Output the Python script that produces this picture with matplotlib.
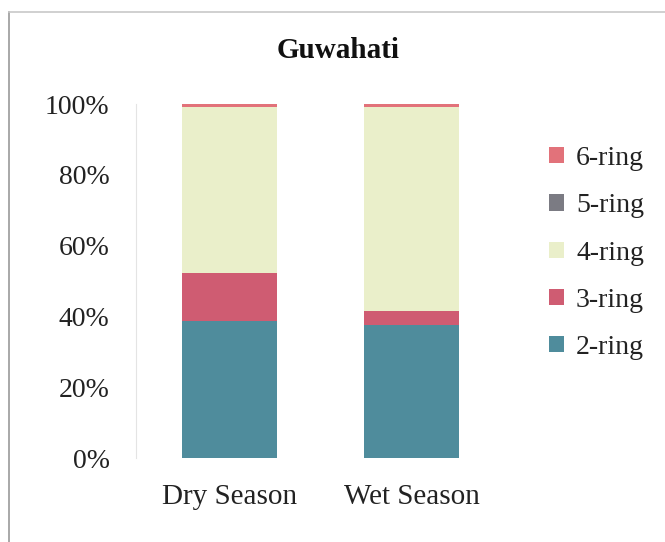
import matplotlib
matplotlib.use("Agg")
import matplotlib.pyplot as plt
from matplotlib.lines import Line2D
from matplotlib.patches import Patch

categories = ["Dry Season", "Wet Season"]
series_names = ["2-ring", "3-ring", "4-ring", "5-ring", "6-ring"]
ring2 = [38.7, 37.6]
ring3 = [13.6, 3.9]
ring4 = [46.9, 57.7]
ring5 = [0.0, 0.0]
ring6 = [0.8, 0.8]
yticks = [0, 20, 40, 60, 80, 100]
ytick_labels = ["0%", "20%", "40%", "60%", "80%", "100%"]
title = "Guwahati"

colors = ["#4f8c9c", "#cf5c72", "#eaefca", "#7b7b83", "#e2727a"]

plt.rcParams['font.family'] = ['Liberation Serif', 'DejaVu Serif']

W, H = 665, 542
fig = plt.figure(figsize=(W / 100, H / 100), dpi=100)
fig.patch.set_facecolor("white")

ax = fig.add_axes([136 / W, 1 - 458 / H, (505 - 136) / W, (458 - 104) / H])

series = [ring2, ring3, ring4, ring5, ring6]
x = list(range(len(categories)))
bottom = [0.0] * len(categories)
for name, vals, c in zip(series_names, series, colors):
    ax.bar(x, vals, bottom=bottom, width=0.52, color=c, edgecolor="none", label=name)
    bottom = [b + v for b, v in zip(bottom, vals)]

ax.set_xlim(-0.514, 1.514)
ax.set_ylim(0, 100)
ax.set_yticks(yticks)
ax.set_yticklabels(ytick_labels)
ax.set_xticks(x)
ax.set_xticklabels(categories)
ax.tick_params(axis="y", length=0, pad=19, labelsize=20, colors="#222222")
ax.tick_params(axis="x", length=0, pad=19, labelsize=21, colors="#222222")
for s in ["top", "right", "bottom"]:
    ax.spines[s].set_visible(False)
ax.spines["left"].set_color("#e4e4e4")
ax.spines["left"].set_linewidth(0.8)

fig.text(338 / W, 1 - 50 / H, title, ha="center", va="center",
         fontsize=21, fontweight="bold", color="#111111")

handles = [Patch(facecolor=c, edgecolor="none") for c in colors]
leg = fig.legend(handles[::-1], series_names[::-1], loc="upper left",
                 bbox_to_anchor=(538 / W, 1 - 135 / H), frameon=False,
                 fontsize=20, handlelength=0.52, handleheight=0.52,
                 handletextpad=0.45, labelspacing=0.8, borderaxespad=0)
for t in leg.get_texts():
    t.set_color("#222222")

# outer chart frame (left and top edges visible)
fig.add_artist(Line2D([9 / W, 9 / W], [0, 1 - 12 / H], transform=fig.transFigure,
                      color="#9a9a9a", linewidth=1.2))
fig.add_artist(Line2D([9 / W, 1], [1 - 12 / H, 1 - 12 / H], transform=fig.transFigure,
                      color="#c8c8c8", linewidth=1.2))

fig.savefig("out.png", dpi=100, facecolor="white")
